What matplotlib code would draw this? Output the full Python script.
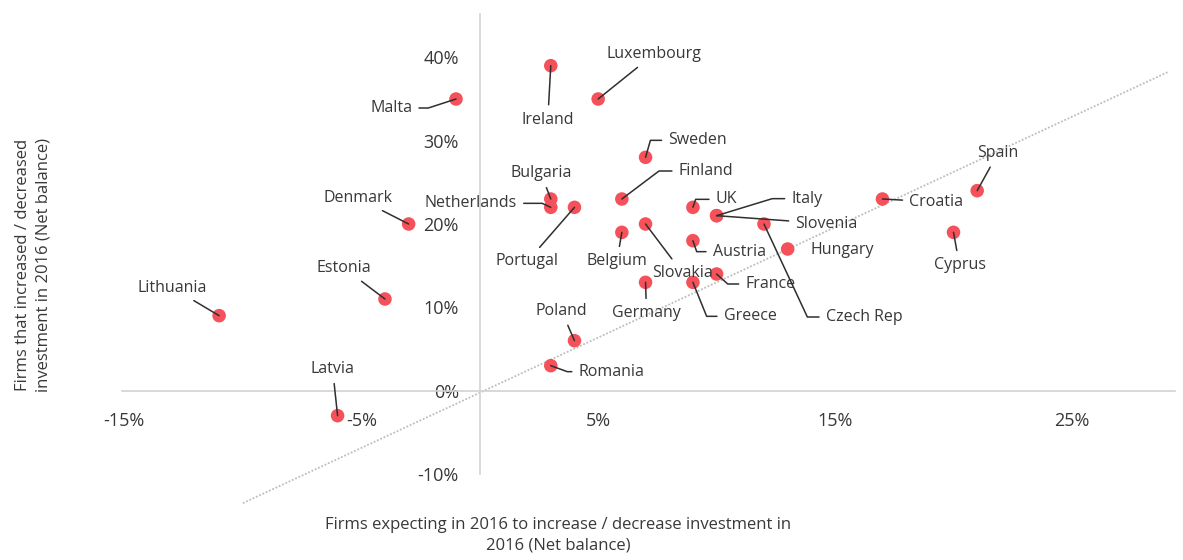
import matplotlib
matplotlib.use("Agg")
import matplotlib.pyplot as plt
from matplotlib.ticker import FuncFormatter

# Net balance, % (x: expected change, y: realised change)
countries = ["Lithuania", "Latvia", "Estonia", "Denmark", "Malta", "Ireland",
             "Luxembourg", "Bulgaria", "Netherlands", "Portugal", "Sweden",
             "Finland", "Belgium", "Slovakia", "Germany", "UK", "Austria",
             "Greece", "France", "Italy", "Slovenia", "Czech Rep", "Hungary",
             "Croatia", "Spain", "Cyprus", "Poland", "Romania"]
expected = [-11, -6, -4, -3, -1, 3, 5, 3, 3, 4, 7, 6, 6, 7, 7, 9, 9, 9, 10,
            10, 10, 12, 13, 17, 21, 20, 4, 3]
realised = [9, -3, 11, 20, 35, 39, 35, 23, 22, 22, 28, 23, 19, 20, 13, 22, 18,
            13, 14, 21, 21, 20, 17, 23, 24, 19, 6, 3]

# dotted trend line end points
trend_x = [-10, 29.1]
trend_y = [-13.5, 38.3]

xticks = [-15, -5, 5, 15, 25]
yticks = [-10, 0, 10, 20, 30, 40]

# label layout: offset in pixels (right, down), alignment, leader angle at dot
# (None = straight leader, "none" = no leader)
layout = {
    "Lithuania": (-47, -28, "center", None),
    "Latvia": (-5, -47, "center", None),
    "Estonia": (-41, -31, "center", None),
    "Denmark": (-51, -26, "center", None),
    "Malta": (-44, 9, "right", 18),
    "Ireland": (-3, 54, "center", None),
    "Luxembourg": (56, -45, "center", None),
    "Bulgaria": (-10, -26, "center", None),
    "Netherlands": (-34, -4, "right", -25),
    "Portugal": (-47, 54, "center", None),
    "Sweden": (23, -17, "left", 74),
    "Finland": (57, -28, "left", 37),
    "Belgium": (-5, 29, "center", None),
    "Slovakia": (37, 49, "center", None),
    "Germany": (1, 31, "center", None),
    "UK": (23, -8, "left", 71),
    "Austria": (20, 11, "left", -71),
    "Greece": (31, 34, "left", -68),
    "France": (29, 10, "left", -42),
    "Italy": (75, -17, "left", 17),
    "Slovenia": (79, 8, "left", None),
    "Czech Rep": (62, 93, "left", -65),
    "Hungary": (23, 1, "left", "none"),
    "Croatia": (27, 3, "left", None),
    "Spain": (21, -38, "center", None),
    "Cyprus": (6, 33, "center", None),
    "Poland": (-13, -30, "center", None),
    "Romania": (28, 6, "left", -20),
}

plt.rcParams['font.family'] = ['Open Sans', 'DejaVu Sans']
text_col = "#383838"
axis_col = "#d2d2d2"
dot_col = "#f4515a"

fig = plt.figure(figsize=(11.83, 5.6), dpi=100)
ax = fig.add_axes([122 / 1183, 1 - 474 / 560, 1053 / 1183, 460 / 560])

ax.set_xlim(-15.1, 29.35)
ax.set_ylim(-10, 45.2)

for side in ["top", "right"]:
    ax.spines[side].set_visible(False)
for side in ["left", "bottom"]:
    ax.spines[side].set_position(("data", 0))
    ax.spines[side].set_color(axis_col)
    ax.spines[side].set_linewidth(1.2)

ax.set_xticks(xticks)
ax.set_yticks(yticks)
pct = FuncFormatter(lambda v, p: "%d%%" % v)
ax.xaxis.set_major_formatter(pct)
ax.yaxis.set_major_formatter(pct)
ax.tick_params(axis="both", length=0, labelsize=13, labelcolor=text_col)
ax.tick_params(axis="x", pad=15)
ax.tick_params(axis="y", pad=15)

ax.plot(trend_x, trend_y, color="#bdbdbd", lw=1.3, ls=(0, (1, 1)), zorder=1,
        clip_on=False)

ax.scatter(expected, realised, s=95, color=dot_col, edgecolors="none", zorder=3)

for name, x, y in zip(countries, expected, realised):
    dx, dy, ha, ang = layout[name]
    kw = dict(xy=(x, y), xytext=(dx, -dy), textcoords="offset pixels",
              ha=ha, va="center", fontsize=11.5, color=text_col, zorder=4)
    if ang != "none":
        if ang is None:
            conn = "arc3,rad=0"
        else:
            conn = "angle,angleA=0,angleB=%s,rad=0" % ang
        kw["arrowprops"] = dict(arrowstyle="-", color="#2f2f2f", lw=1.1,
                                shrinkA=3, shrinkB=0, connectionstyle=conn)
    ax.annotate(name, **kw)

fig.text(558 / 1183, 1 - 535 / 560,
         "Firms expecting in 2016 to increase / decrease investment in\n2016 (Net balance)",
         ha="center", va="center", fontsize=12, color=text_col, linespacing=1.4)
fig.text(33 / 1183, 1 - 265 / 560,
         "Firms that increased / decreased\ninvestment in 2016 (Net balance)",
         ha="center", va="center", rotation=90, fontsize=12, color=text_col,
         linespacing=1.4)

fig.savefig("out.png", dpi=100)
